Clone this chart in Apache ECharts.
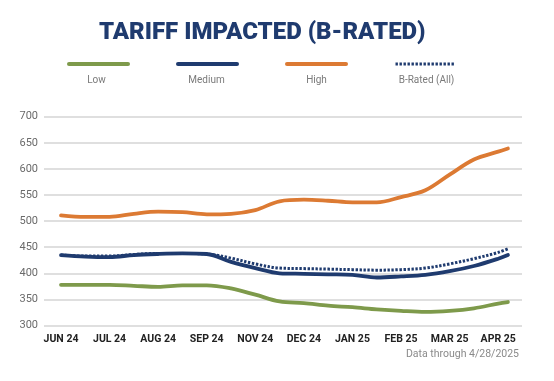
<!DOCTYPE html>
<html>
<head>
<meta charset="utf-8">
<script src="https://cdn.jsdelivr.net/npm/echarts@6/dist/echarts.min.js"></script>
<style>
html,body{margin:0;padding:0;background:#fff;}
#c{width:554px;height:381px;}
</style>
</head>
<body>
<div id="c"></div>
<script>
// Tick labels on the x axis (positions 0..9)
const categories = ['JUN 24','JUL 24','AUG 24','SEP 24','NOV 24','DEC 24','JAN 25','FEB 25','MAR 25','APR 25'];
// Sample positions along the x axis (in label units)
const xPos = [0,0.5,1,1.5,2,2.5,3,3.5,4,4.5,5,5.5,6,6.5,7,7.5,8,8.5,9,9.2];
const low    = [378,378,378,376,374,377,377,371,359,346,343,338,335,331,328,326,328,333,342,345];
const medium = [435,432,431,435,437,438,437,422,410,400,399,398,397,392,394,397,404,414,428,435];
const high   = [511,508,508,514,518,517,513,514,521,538,541,539,536,536,546,559,589,618,633,639];
const bRated = [435,433,433,436,438,438,437,429,418,410,409,408,407,406,407,410,418,428,440,447];
const seriesNames = ['Low','Medium','High','B-Rated (All)'];
const yTicks = {min:300, max:700, interval:50};

const pairs = arr => arr.map((v,i)=>[xPos[i], v]);
const FONT = "Roboto, sans-serif";
const C = {low:'#7e9a4b', med:'#1f3b6f', high:'#dc7a33'};
const DOT = [2.4,1.6];

const chart = echarts.init(document.getElementById('c'), null, {renderer:'canvas'});
const mk = (name, data, color, dotted) => ({
  name, type:'line', data: pairs(data), smooth:0.35, symbol:'none', showSymbol:false,
  lineStyle: dotted ? {color, width:3, type:DOT, cap:'butt', join:'round'}
                    : {color, width:3.8, type:'solid', cap:'round', join:'round'},
  itemStyle:{color}, emphasis:{disabled:true}, z: dotted?5:3
});
const labelLegends = seriesNames.map((n,i)=>({
  data:[n], left: 67 + 110*i - 2 - 5, top:73, padding:0, icon:'none', itemWidth:0,
  selectedMode:false, formatter:s=>'{t|'+s+'}',
  textStyle:{rich:{t:{width:63, align:'center', fontFamily:FONT, fontSize:10, color:'#7a7a7a'}}}
}));
chart.setOption({
  animation:false,
  title:{text:'TARIFF IMPACTED (B-RATED)', left:94, top:16,
    textStyle:{fontFamily:'Roboto', fontWeight:900, fontSize:24, color:'#1f3b6f'}},
  legend:[
    {data:seriesNames.map(n => n==='B-Rated (All)'
        ? {name:n, lineStyle:{type:DOT, cap:'butt', width:3}}
        : {name:n}),
     left:67, top:62, padding:0,
     itemWidth:59, itemHeight:4, itemGap:46, formatter:()=>'', selectedMode:false,
     lineStyle:{width:4, cap:'round'}, itemStyle:{opacity:0}}
  ].concat(labelLegends),
  grid:{left:44, right:32, top:116.7, bottom:55.5, containLabel:false},
  xAxis:{type:'value', min:-0.35, max:9.49,
    axisLine:{show:false}, axisTick:{show:false}, splitLine:{show:false},
    axisLabel:{customValues:[0,1,2,3,4,5,6,7,8,9], formatter:v=>categories[Math.round(v)],
      fontFamily:FONT, fontWeight:'bold', fontSize:10.5, color:'#222', margin:8}},
  yAxis:{type:'value', min:yTicks.min, max:yTicks.max, interval:yTicks.interval,
    axisLine:{show:false}, axisTick:{show:false},
    splitLine:{lineStyle:{color:'#d4d4d4', width:1.5}},
    axisLabel:{fontFamily:FONT, fontSize:11, color:'#6a6a6a', margin:6}},
  graphic:[{type:'text', right:35, top:349,
    style:{text:'Data through 4/28/2025', font:'10.5px '+FONT, fill:'#8a8a8a'}}],
  series:[
    mk('Low', low, C.low, false),
    mk('Medium', medium, C.med, false),
    mk('High', high, C.high, false),
    mk('B-Rated (All)', bRated, C.med, true)
  ]
});
</script>
</body>
</html>
